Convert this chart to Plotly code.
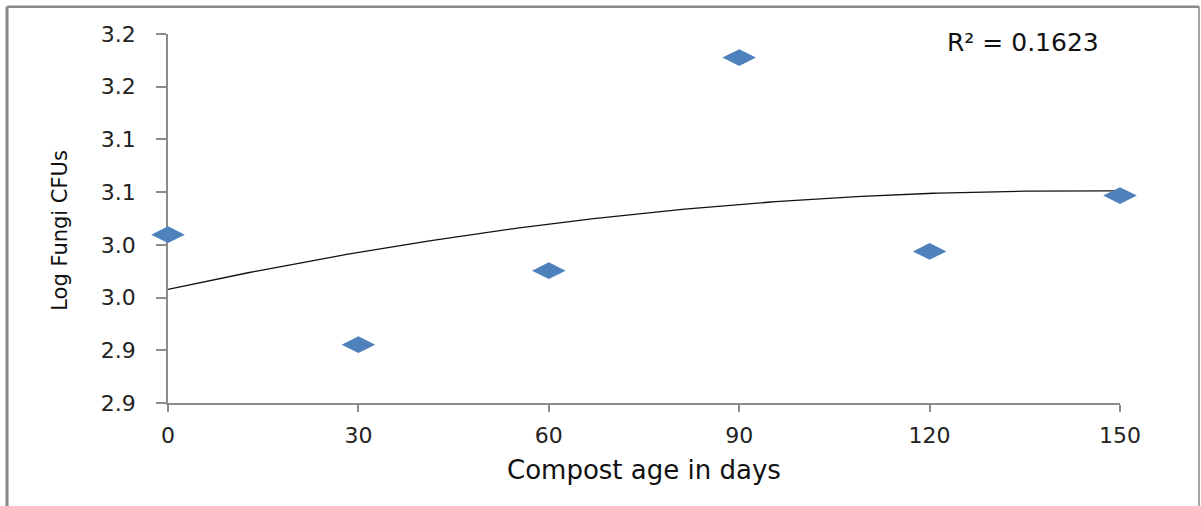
import numpy as np
import plotly.graph_objects as go

# Data
compost_age_days = [0, 30, 60, 90, 120, 150]
log_fungi_cfus = [3.0097, 2.9053, 2.9755, 3.1776, 2.9938, 3.0467]

x_tick_vals = [0, 30, 60, 90, 120, 150]
y_tick_vals = [2.85, 2.90, 2.95, 3.00, 3.05, 3.10, 3.15, 3.20]
y_tick_text = ["2.9", "2.9", "3.0", "3.0", "3.1", "3.1", "3.2", "3.2"]
r2_label = "R² = 0.1623"

# Order-2 polynomial trendline (as in the spreadsheet chart)
coef = np.polyfit(compost_age_days, log_fungi_cfus, 2)
x_fit = np.linspace(min(compost_age_days), max(compost_age_days), 200)
y_fit = np.polyval(coef, x_fit)

FONT = "DejaVu Sans"
AXIS_COL = "#8c8c8c"
MARKER_COL = "#4F81BD"

fig = go.Figure()
fig.add_trace(go.Scatter(
    x=x_fit, y=y_fit, mode="lines",
    line=dict(color="#111111", width=1.3),
    hoverinfo="skip", showlegend=False, cliponaxis=False,
))
fig.add_trace(go.Scatter(
    x=compost_age_days, y=log_fungi_cfus, mode="markers",
    marker=dict(symbol="diamond-wide", size=24, color=MARKER_COL,
                line=dict(width=0)),
    showlegend=False, cliponaxis=False,
))

fig.update_layout(
    width=1201, height=506,
    margin=dict(l=168, r=81, t=34, b=103, pad=0),
    paper_bgcolor="white", plot_bgcolor="white",
    font=dict(family=FONT, color="#222222"),
    showlegend=False,
    xaxis=dict(
        range=[0, 150], tickvals=x_tick_vals,
        ticks="outside", ticklen=7, tickcolor=AXIS_COL, tickwidth=1.5,
        showline=True, linecolor=AXIS_COL, linewidth=1.5,
        showgrid=False, zeroline=False, layer="below traces",
        tickfont=dict(family=FONT, size=22, color="#222222"),
        ticklabelstandoff=5,
    ),
    yaxis=dict(
        range=[2.85, 3.20], tickvals=y_tick_vals, ticktext=y_tick_text,
        ticks="outside", ticklen=10, tickcolor=AXIS_COL, tickwidth=1.5,
        showline=True, linecolor=AXIS_COL, linewidth=1.5,
        showgrid=False, zeroline=False, layer="below traces",
        tickfont=dict(family=FONT, size=22, color="#222222"),
        ticklabelstandoff=16,
    ),
    annotations=[
        dict(text="Compost age in days", xref="paper", yref="paper",
             x=0.5, y=-0.181, xanchor="center", yanchor="middle",
             showarrow=False, font=dict(family=FONT, size=26, color="#111111")),
        dict(text="Log Fungi CFUs", xref="paper", yref="paper",
             x=-0.1134, y=0.467, xanchor="center", yanchor="middle",
             textangle=-90, showarrow=False,
             font=dict(family=FONT, size=21, color="#111111")),
        dict(text=r2_label, xref="paper", yref="paper",
             x=0.898, y=0.976, xanchor="center", yanchor="middle",
             showarrow=False, font=dict(family=FONT, size=25, color="#111111")),
    ],
    shapes=[
        dict(type="line", xref="paper", yref="paper",
             x0=-0.1691, x1=-0.1691, y0=1.074, y1=-0.30,
             line=dict(color="#888888", width=3)),
        dict(type="line", xref="paper", yref="paper",
             x0=-0.1691, x1=1.083, y0=1.074, y1=1.074,
             line=dict(color="#888888", width=2.5)),
        dict(type="line", xref="paper", yref="paper",
             x0=1.083, x1=1.083, y0=1.074, y1=-0.30,
             line=dict(color="#888888", width=1.5)),
    ],
)

fig.write_html("out.html")
